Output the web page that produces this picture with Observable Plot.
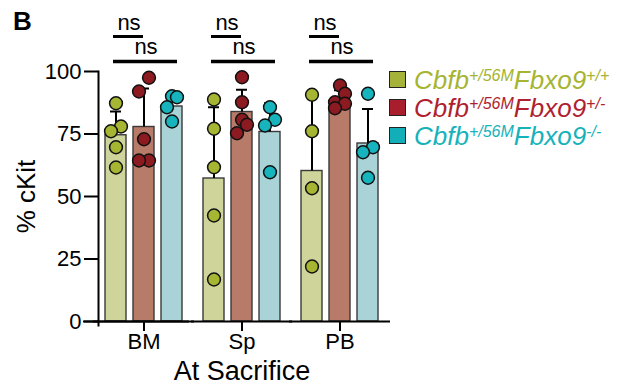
<!DOCTYPE html>
<html>
<head>
<meta charset="utf-8">
<script src="https://cdn.jsdelivr.net/npm/d3@7"></script>
<script src="https://cdn.jsdelivr.net/npm/@observablehq/plot@0.6"></script>
<style>
  body { margin: 0; background: #fff; }
  #wrap { position: relative; width: 631px; height: 388px; font-family: "Liberation Sans", Arial, Helvetica, sans-serif; color: #000; }
  #wrap svg { position: absolute; left: 0; top: 0; }
  #panel { position: absolute; left: 13px; top: 8px; font-weight: bold; font-size: 26px; line-height: 26px; }
  .row { position: absolute; left: 389px; height: 28px; width: 240px; }
  .sw { position: absolute; left: 0; top: 5px; width: 15px; height: 15px; border: 1.5px solid #222; }
  .lab { position: absolute; left: 25px; top: 0; white-space: nowrap; font-style: italic; font-size: 26px; line-height: 28px; }
  .lab sup { font-size: 16px; vertical-align: baseline; position: relative; top: -8px; line-height: 0; }
</style>
</head>
<body>
<div id="wrap">
  <div id="panel">B</div>
  <div id="legend"></div>
</div>
<script>
// ---------- data ----------
const groups = ["BM", "Sp", "PB"];
const genotypes = ["+/+", "+/-", "-/-"];

// bar heights (mean % cKit) per genotype
const meanBM = [74.5, 77.8, 86.0];
const meanSp = [57.2, 83.8, 75.8];
const meanPB = [60.2, 86.0, 71.2];

// upper error (SD) per genotype
const sdBM = [9.5, 15.4, 5.0];
const sdSp = [28.5, 8.9, 11.5];
const sdPB = [30.5, 6.5, 13.8];

// individual animals per genotype
const ptsBM = [[87.3, 78.0, 76.1, 69.7, 61.6], [97.5, 92.0, 72.9, 64.4, 64.4], [90.1, 89.7, 85.7, 80.0]];
const ptsSp = [[88.8, 77.1, 61.7, 42.4, 16.8], [97.7, 87.7, 80.7, 78.7, 75.3], [85.7, 80.7, 78.4, 59.7]];
const ptsPB = [[90.7, 76.1, 53.3, 22.0], [94.4, 91.1, 87.7, 87.1, 85.3], [91.1, 69.7, 67.7, 57.5]];

const yTicks = [0, 25, 50, 75, 100];

// significance comparisons (same in every group)
const comparisons = [
  {from: "+/+", to: "+/-", label: "ns"},
  {from: "+/+", to: "-/-", label: "ns"}
];

// legend text pieces
const gene1 = "Cbfb", allele1 = "+/56M", gene2 = "Fbxo9";

// ---------- styles ----------
const barFill = ["#cfd49b", "#b97b69", "#a9d3d7"];
const dotFill = ["#a6b532", "#8b1b20", "#17b4be"];
const legendFill = ["#a5b33b", "#a81e2d", "#12afb8"];
const legendText = ["#a5b431", "#b01f2f", "#16b2bb"];

// ---------- tables ----------
const means = {BM: meanBM, Sp: meanSp, PB: meanPB};
const sds = {BM: sdBM, Sp: sdSp, PB: sdPB};
const pts = {BM: ptsBM, Sp: ptsSp, PB: ptsPB};

const bars = groups.flatMap(g => genotypes.map((gt, k) => ({group: g, genotype: gt, k, mean: means[g][k], sd: sds[g][k]})));
const points = groups.flatMap(g => genotypes.flatMap((gt, k) => pts[g][k].map(v => ({group: g, genotype: gt, k, value: v}))));
const brackets = groups.flatMap(g => comparisons.map((c, tier) => ({group: g, ...c, tier})));
const tierY = t => (t === 0 ? 114 : 104);

// Spread overlapping dots horizontally inside their bar (like a scatter-dot plot)
function dodgeInBand(spread, gap) {
  return function (data, facets, channels, scales) {
    const XV = channels.x.value, YV = channels.y.value;
    const n = XV.length;
    const X = new Float64Array(n), Y = new Float64Array(n);
    for (let i = 0; i < n; ++i) { X[i] = scales.x(XV[i]); Y[i] = scales.y(YV[i]); }
    for (const facet of facets) {
      for (const idx of d3.group(Array.from(facet), i => XV[i]).values()) {
        const order = idx.slice().sort((a, b) => Y[a] - Y[b]);
        let cluster = [];
        const flush = () => {
          const m = cluster.length;
          cluster.forEach((i, j) => {
            let o;
            if (m === 1) o = 0;
            else if (m % 2) o = j === 0 ? 0 : (j % 2 ? 1 : -1);
            else o = j % 2 ? -1 : 1;
            X[i] += o * spread;
          });
          cluster = [];
        };
        for (const i of order) {
          if (cluster.length && Y[i] - Y[cluster[cluster.length - 1]] >= gap) flush();
          cluster.push(i);
        }
        flush();
      }
    }
    return {data, facets, channels: {x: {value: X}, y: {value: Y}}};
  };
}

const chart = Plot.plot({
  width: 631,
  height: 388,
  marginTop: 71,
  marginBottom: 67,
  marginLeft: 97,
  marginRight: 244,
  style: {fontFamily: "'Liberation Sans', Arial, Helvetica, sans-serif", fontSize: "22px", color: "#000", background: "transparent", overflow: "visible"},
  fx: {domain: groups, paddingInner: 0.0707, paddingOuter: 0, axis: null, label: null},
  x: {domain: genotypes, paddingInner: 0.24, paddingOuter: 0.207, axis: null},
  y: {domain: [0, 100], axis: null},
  color: {type: "identity"},
  marks: [
    Plot.barY(bars, {fx: "group", x: "genotype", y: "mean", fill: d => barFill[d.k], stroke: "#3a3a3a", strokeWidth: 1.4}),
    Plot.ruleX(bars, {fx: "group", x: "genotype", y1: "mean", y2: d => d.mean + d.sd, stroke: "#000", strokeWidth: 2}),
    Plot.tickY(bars, {fx: "group", x: "genotype", y: d => d.mean + d.sd, stroke: "#000", strokeWidth: 2, insetLeft: 5, insetRight: 5}),
    Plot.dot(points, {fx: "group", x: "genotype", y: "value", r: 6.4, fill: d => dotFill[d.k], stroke: "#111", strokeWidth: 1.5, initializer: dodgeInBand(5, 14)}),
    // significance brackets
    Plot.ruleY(brackets.filter(d => d.tier === 0), {fx: "group", x1: "from", x2: "to", y: d => tierY(d.tier), stroke: "#000", strokeWidth: 3, insetLeft: 8, insetRight: 11}),
    Plot.ruleY(brackets.filter(d => d.tier === 1), {fx: "group", x1: "from", x2: "to", y: d => tierY(d.tier), stroke: "#000", strokeWidth: 3.5, insetLeft: 8, insetRight: 5}),
    Plot.text(brackets.filter(d => d.tier === 0), {fx: "group", x: "from", y: d => tierY(d.tier), text: "label", dx: 13, dy: -7, lineAnchor: "bottom", fontSize: 22}),
    Plot.text(brackets.filter(d => d.tier === 1), {fx: "group", x: "from", y: d => tierY(d.tier), text: "label", dx: 30, dy: -8, lineAnchor: "bottom", fontSize: 22}),
    // axes
    Plot.ruleY([0], {stroke: "#000", strokeWidth: 2, insetLeft: -5, insetRight: -5}),
    Plot.ruleY([0], {stroke: "#000", strokeWidth: 2, insetLeft: -15, facetAnchor: "left"}),
    Plot.frame({anchor: "left", facetAnchor: "left", stroke: "#000", strokeWidth: 2, insetBottom: -4}),
    Plot.axisY({anchor: "left", ticks: yTicks, tickSize: 14, tickPadding: 3, strokeWidth: 2, fontSize: 22, label: null}),
    Plot.axisY({anchor: "left", ticks: [], tickSize: 0, label: "% cKit", labelAnchor: "center", labelOffset: 82, fontSize: 26, labelArrow: "none"}),
    Plot.axisFx({anchor: "bottom", tickSize: 10, tickPadding: 2, strokeWidth: 2, fontSize: 22, label: null}),
    Plot.axisFx({anchor: "bottom", ticks: [], tickSize: 0, label: "At Sacrifice", labelAnchor: "center", labelOffset: 58, fontSize: 27, labelArrow: "none"})
  ]
});

document.getElementById("wrap").prepend(chart);

// legend
const legend = d3.select("#legend");
genotypes.forEach((g, k) => {
  const row = legend.append("div").attr("class", "row").style("top", `${66 + 28 * k}px`);
  row.append("div").attr("class", "sw").style("background", legendFill[k]);
  row.append("div").attr("class", "lab").style("color", legendText[k])
    .html(`${gene1}<sup>${allele1}</sup>${gene2}<sup>${g}</sup>`);
});
</script>
</body>
</html>
